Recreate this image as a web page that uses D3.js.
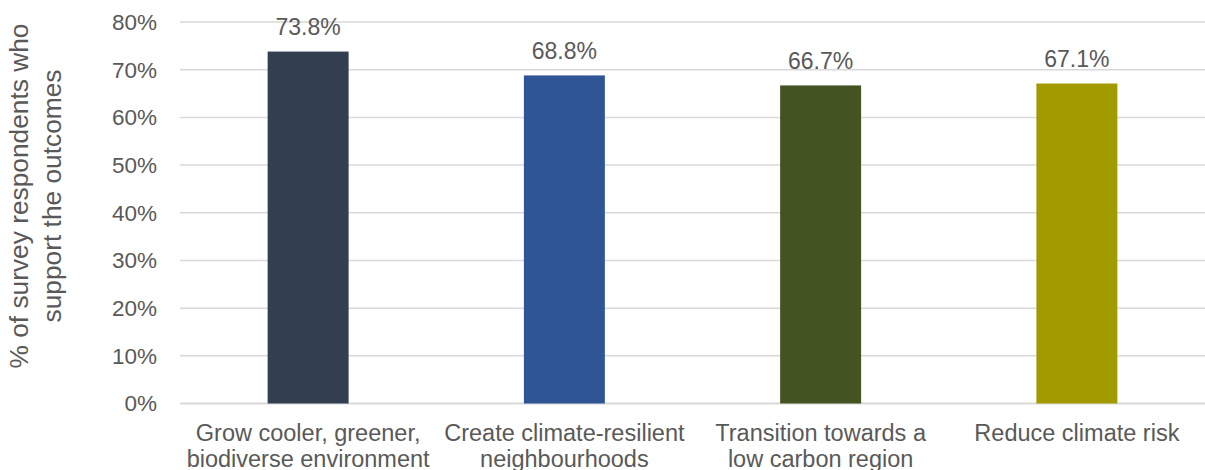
<!DOCTYPE html>
<html><head><meta charset="utf-8">
<script src="https://cdn.jsdelivr.net/npm/d3@7"></script>
<style>body{margin:0;background:#fff;}svg{display:block;font-family:Arial,"Liberation Sans",sans-serif;}</style>
</head><body><svg id="c" width="1205" height="470"></svg>
<script>
const categories = [
  ["Grow cooler, greener,", "biodiverse environment"],
  ["Create climate-resilient", "neighbourhoods"],
  ["Transition towards a", "low carbon region"],
  ["Reduce climate risk"]
];
const values = [73.8, 68.8, 66.7, 67.1];
const colors = ["#333F50", "#2F5597", "#435321", "#A19B00"];
const yTicks = [0, 10, 20, 30, 40, 50, 60, 70, 80];
const yTitle = ["% of survey respondents who", "support the outcomes"];

const svg = d3.select("#c");
const plotLeft = 180, plotRight = 1205, plotTop = 22, plotBottom = 403.5;
const textColor = "#595959";

const x = d3.scaleBand().domain(d3.range(categories.length)).range([plotLeft, plotRight]).paddingInner(0.684).paddingOuter(0.342);
const y = d3.scaleLinear().domain([0, 80]).range([plotBottom, plotTop]);

// gridlines
svg.append("g").selectAll("line").data(yTicks).join("line")
  .attr("x1", plotLeft).attr("x2", plotRight)
  .attr("y1", d => y(d)).attr("y2", d => y(d))
  .attr("stroke", "#d9d9d9").attr("stroke-width", d => d === 0 ? 2 : 1.5);

// y tick labels
svg.append("g").selectAll("text").data(yTicks).join("text")
  .attr("x", 157).attr("y", d => y(d)).attr("dy", "0.35em")
  .attr("text-anchor", "end").attr("font-size", 22.5).attr("fill", textColor)
  .text(d => d + "%");

// bars
svg.append("g").selectAll("rect").data(values).join("rect")
  .attr("x", (d, i) => x(i)).attr("width", x.bandwidth())
  .attr("y", d => y(d)).attr("height", d => y(0) - y(d))
  .attr("fill", (d, i) => colors[i]);

// data labels
svg.append("g").selectAll("text").data(values).join("text")
  .attr("x", (d, i) => x(i) + x.bandwidth() / 2).attr("y", d => y(d) - 16.5)
  .attr("text-anchor", "middle").attr("font-size", 23).attr("fill", textColor)
  .text(d => d.toFixed(1) + "%");

// category labels
const cat = svg.append("g").selectAll("text").data(categories).join("text")
  .attr("x", (d, i) => x(i) + x.bandwidth() / 2).attr("y", 441)
  .attr("text-anchor", "middle").attr("font-size", 23.5).attr("fill", textColor);
cat.selectAll("tspan").data(d => d).join("tspan")
  .attr("x", function() { return d3.select(this.parentNode).attr("x"); })
  .attr("dy", (d, i) => i === 0 ? 0 : 25.5)
  .text(d => d);

// y title
const t = svg.append("text").attr("transform", "translate(28,196) rotate(-90)")
  .attr("text-anchor", "middle").attr("font-size", 26.3).attr("fill", textColor);
t.selectAll("tspan").data(yTitle).join("tspan")
  .attr("x", 0).attr("dy", (d, i) => i === 0 ? 0 : 33)
  .text(d => d);
</script></body></html>
